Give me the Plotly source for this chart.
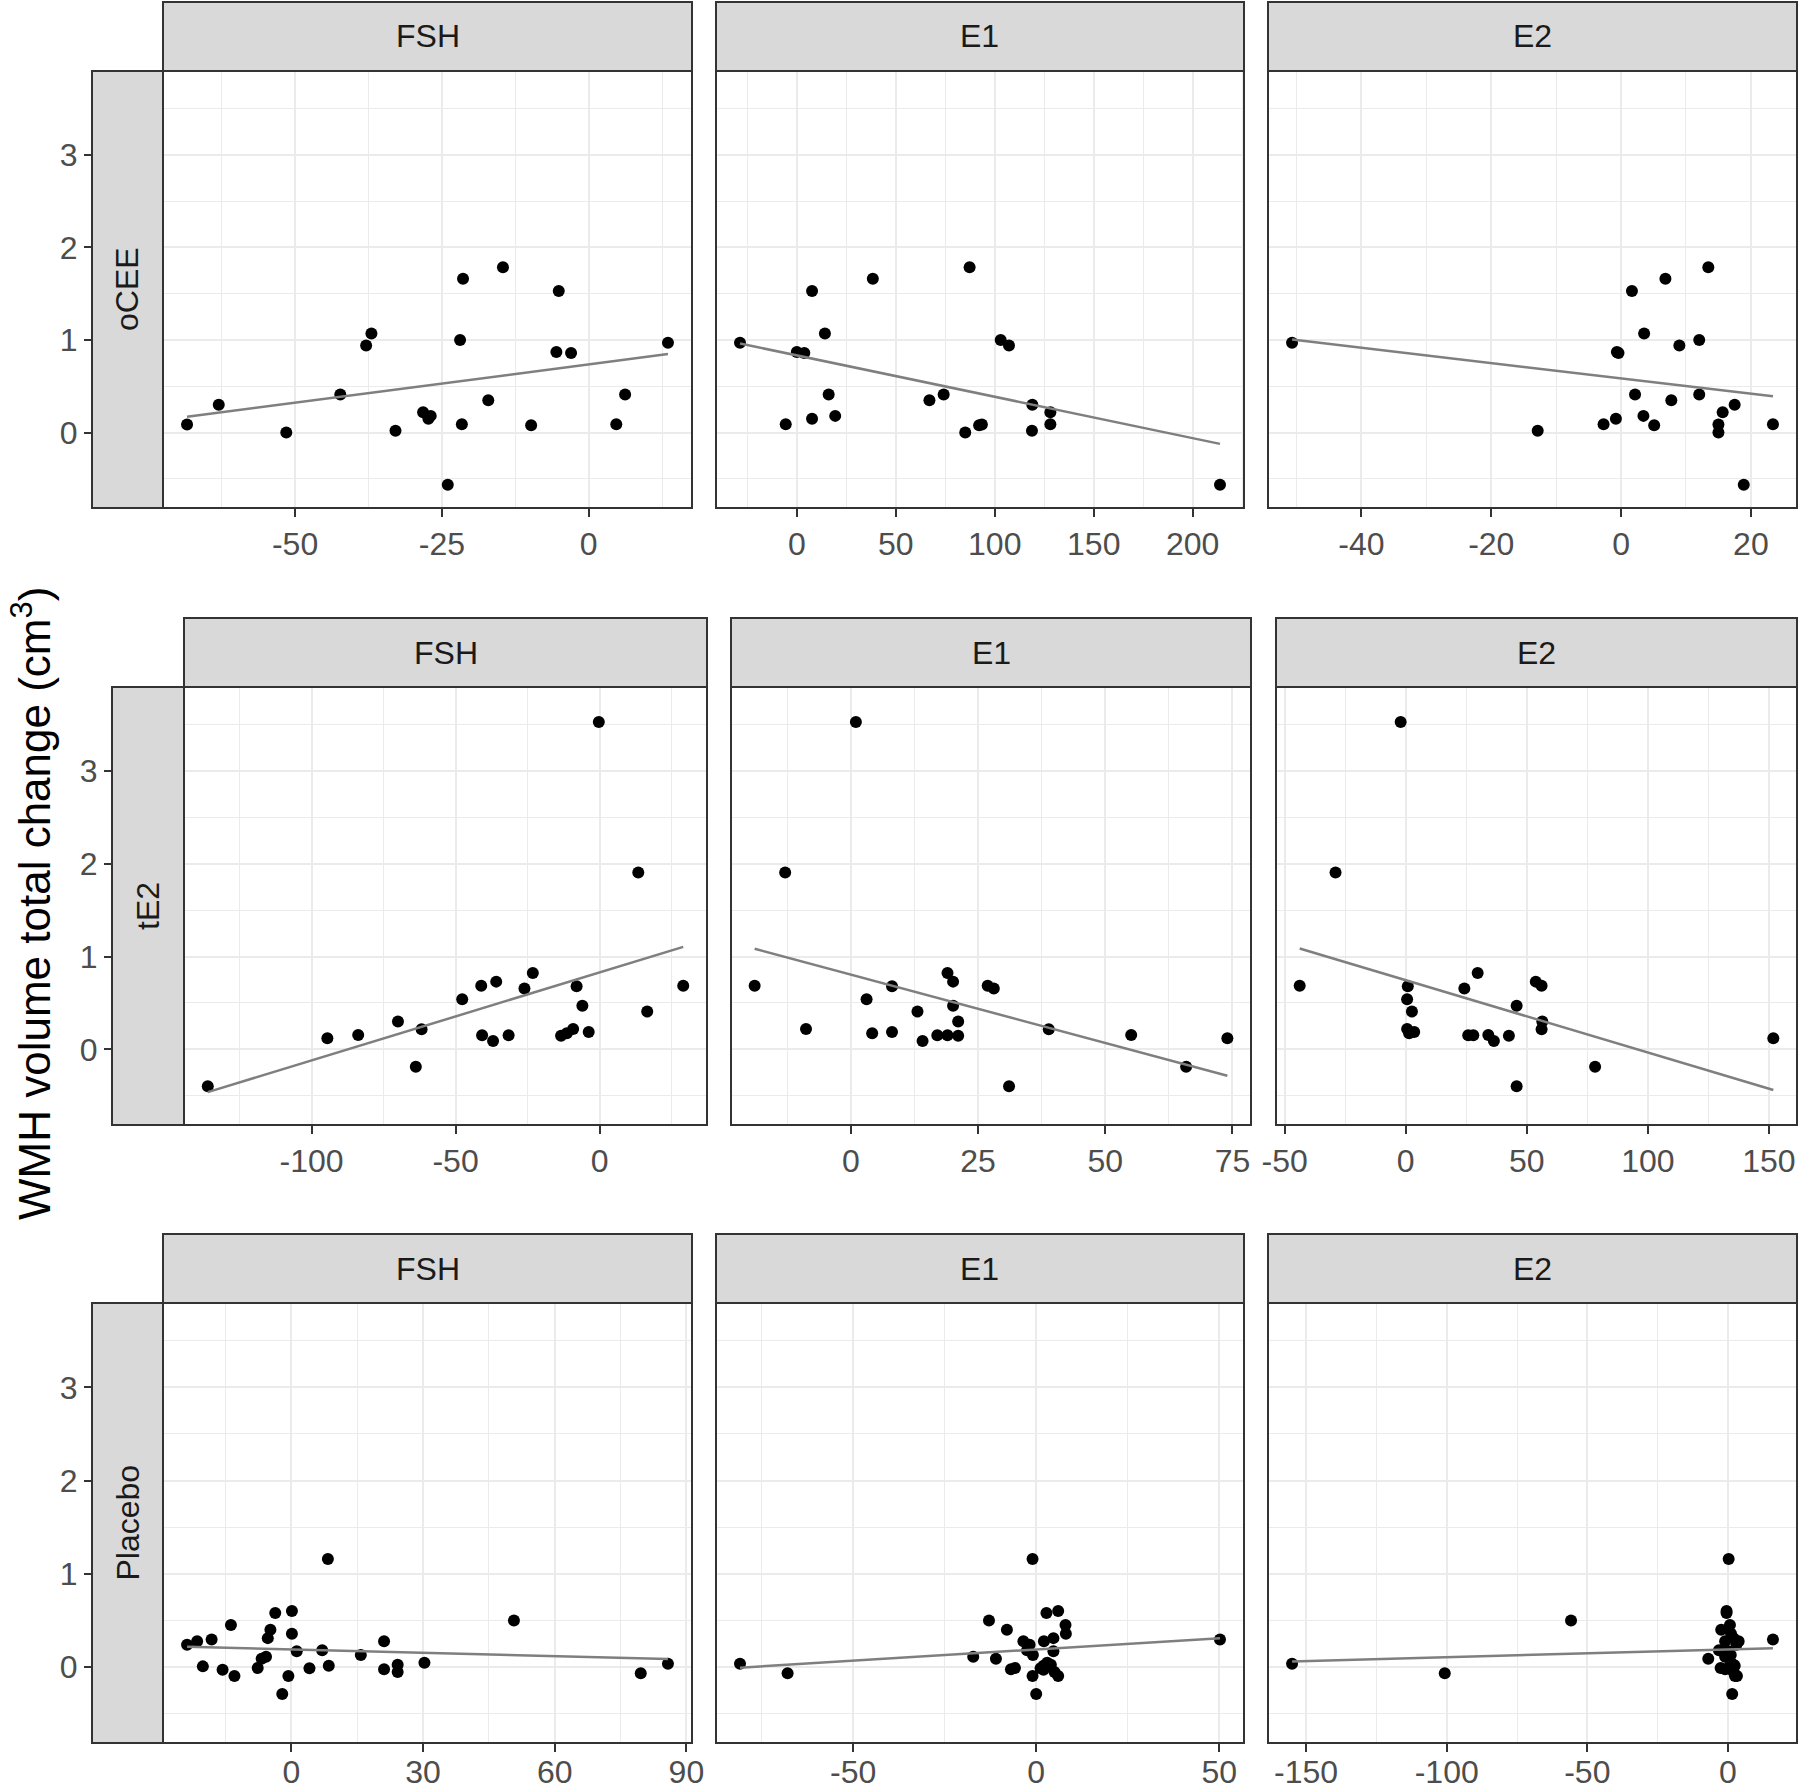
import numpy as np
import plotly.graph_objects as go

W, H = 1800, 1789

hormones = ["FSH", "E1", "E2"]
groups = ["oCEE", "tE2", "Placebo"]

# oCEE: one y per subject, x per hormone change
ocee_y = [0.97, 0.87, 0.86, 1.53, 1.07, 0.15, 0.41, 0.18, 1.66, 0.35, 0.41, 0.00,
          1.785, 0.08, 0.086, 1.00, 0.94, 0.30, 0.02, 0.22, 0.09, -0.565, 0.09]
ocee_fsh = [13.5, -5.5, -3.0, -5.1, -37.0, -27.3, -42.3, -26.9, -21.4, -17.1, 6.2, -51.5,
            -14.6, -9.8, -68.4, -21.9, -37.9, -63.0, -32.9, -28.2, -21.6, -24.0, 4.7]
ocee_e1 = [-28.7, 0.0, 3.8, 7.7, 14.2, 7.7, 16.1, 19.4, 38.4, 67.0, 74.2, 85.1,
           87.3, 92.1, 93.5, 103.0, 107.2, 119.0, 118.8, 128.1, 128.1, 213.8, -5.6]
ocee_e2 = [-50.7, -0.65, -0.4, 1.67, 3.55, -0.8, 2.15, 3.44, 6.83, 7.74, 12.04, 15.0,
           13.44, 5.1, 15.0, 12.04, 8.98, 17.5, -12.85, 15.65, -2.7, 18.9, 23.4]

# tE2
te2_y = [-0.397, 0.119, 0.155, 0.30, -0.188, 0.217, 0.54, 0.686, 0.152, 0.09, 0.73, 0.152,
         0.657, 0.823, 0.146, 0.173, 0.22, 0.68, 0.47, 0.188, 3.527, 1.906, 0.408, 0.686]
te2_fsh = [-136.0, -94.5, -83.8, -70.0, -63.8, -61.8, -47.7, -41.1, -40.8, -37.0, -35.9, -31.6,
           -26.1, -23.2, -13.4, -11.4, -9.2, -8.0, -6.0, -3.8, -0.3, 13.4, 16.5, 29.0]
te2_e1 = [31.1, 74.0, 55.1, 21.1, 65.9, 38.9, 3.1, 26.9, 17.0, 14.1, 20.1, 19.0,
          28.1, 19.0, 21.1, 4.2, -8.8, 8.1, 20.1, 8.1, 1.0, -12.9, 13.1, -18.9]
te2_e2 = [45.8, 151.8, 34.1, 56.4, 78.2, 56.1, 0.57, 56.1, 25.8, 36.4, 53.7, 27.9,
          24.2, 29.7, 42.6, 1.4, 0.57, 0.85, 45.8, 3.5, -2.1, -29.0, 2.55, -43.8]

# Placebo
plac_y = [0.24, 0.277, 0.007, 0.295, -0.03, 0.45, -0.097, -0.01, 0.09, 0.11, 0.31, 0.40,
          0.58, -0.29, -0.097, 0.60, 0.356, 0.17, -0.014, 0.18, 1.16, 0.014, 0.13, 0.277,
          -0.025, 0.025, -0.054, 0.047, 0.50, -0.068, 0.036]
plac_fsh = [-23.8, -21.5, -20.2, -18.2, -15.7, -13.8, -13.0, -7.7, -6.8, -5.8, -5.4, -4.8,
            -3.7, -2.1, -0.7, 0.1, 0.1, 1.2, 4.1, 7.0, 8.3, 8.5, 15.8, 21.1,
            21.1, 24.2, 24.2, 30.3, 50.7, 79.6, 85.8]
plac_e1 = [-1.8, -3.5, 3.0, 50.2, 2.0, 8.0, -1.0, -5.8, -11.0, -17.2, 4.7, -8.0,
           2.8, 0.0, 6.0, 6.0, 8.1, 4.7, 1.2, -2.5, -1.0, 2.0, -0.9, 2.1,
           -6.9, 4.0, 5.0, 3.0, -12.9, -67.9, -80.9]
plac_e2 = [3.0, -1.0, 1.0, 16.0, 1.5, 0.7, 3.2, -2.6, -7.0, -1.0, 2.0, -2.4,
           -0.5, 1.5, 2.5, -0.5, 1.1, 0.0, 0.5, -3.2, 0.25, 2.4, 1.0, 3.8,
           -1.0, 2.0, 2.0, 1.0, -55.8, -100.7, -155.0]

# axis breaks
ocee_ticks = [[-50, -25, 0], [0, 50, 100, 150, 200], [-40, -20, 0, 20]]
te2_ticks = [[-100, -50, 0], [0, 25, 50, 75], [-50, 0, 50, 100, 150]]
plac_ticks = [[0, 30, 60, 90], [-50, 0, 50], [-150, -100, -50, 0]]
y_ticks = [0, 1, 2, 3]

data = [
    (ocee_y, [ocee_fsh, ocee_e1, ocee_e2], ocee_ticks),
    (te2_y, [te2_fsh, te2_e1, te2_e2], te2_ticks),
    (plac_y, [plac_fsh, plac_e1, plac_e2], plac_ticks),
]

# layout in pixels
panel_x = [
    [(163, 692), (716, 1244), (1268, 1797)],
    [(184, 707), (731, 1251), (1276, 1797)],
    [(163, 692), (716, 1244), (1268, 1797)],
]
strip_left = [92, 112, 92]
panel_y = [(71, 508), (687, 1125), (1303, 1743)]
label_shift = [0, 0, -7]
strip_h = 69
y_range = [-0.815, 3.905]

FONT = "Liberation Sans, Arial, sans-serif"
BORDER = "#333333"
TICKFONT = dict(family=FONT, size=32, color="#4d4d4d")


def px(v):
    return v / W


def py(v):
    return 1 - v / H


def minors(breaks):
    b = list(breaks)
    step = b[1] - b[0]
    return [b[0] - step / 2] + [v + step / 2 for v in b]


fig = go.Figure()
shapes = []
annotations = []

for r, (yv, xs, ticks) in enumerate(data):
    y0, y1 = panel_y[r]
    for c in range(3):
        i = r * 3 + c + 1
        xn = "x" if i == 1 else f"x{i}"
        yn = "y" if i == 1 else f"y{i}"
        xv = np.array(xs[c])
        yy = np.array(yv)

        fig.add_trace(go.Scatter(x=xv, y=yy, mode="markers", xaxis=xn, yaxis=yn,
                                 marker=dict(color="black", size=12), showlegend=False,
                                 hoverinfo="x+y"))
        slope, icpt = np.polyfit(xv, yy, 1)
        lx = np.array([xv.min(), xv.max()])
        fig.add_trace(go.Scatter(x=lx, y=slope * lx + icpt, mode="lines", xaxis=xn, yaxis=yn,
                                 line=dict(color="#7f7f7f", width=2.5), showlegend=False,
                                 hoverinfo="skip"))

        span = xv.max() - xv.min()
        x_range = [xv.min() - 0.05 * span, xv.max() + 0.05 * span]
        a, b = panel_x[r][c]

        xaxis = dict(domain=[px(a), px(b)], range=x_range, anchor=yn, automargin=False,
                     tickmode="array", tickvals=ticks[c], ticktext=[str(t) for t in ticks[c]],
                     ticks="outside", ticklen=8, tickwidth=2, tickcolor=BORDER,
                     ticklabelstandoff=label_shift[r],
                     showgrid=True, gridcolor="#ebebeb", gridwidth=2.2,
                     minor=dict(tickmode="array", tickvals=minors(ticks[c]),
                                showgrid=True, gridcolor="#ebebeb", gridwidth=1.1),
                     zeroline=False, showline=False, tickfont=TICKFONT)
        yaxis = dict(domain=[py(y1), py(y0)], range=y_range, automargin=False,
                     tickmode="array", tickvals=y_ticks, ticktext=[str(t) for t in y_ticks],
                     showgrid=True, gridcolor="#ebebeb", gridwidth=2.2,
                     minor=dict(tickmode="array", tickvals=minors(y_ticks),
                                showgrid=True, gridcolor="#ebebeb", gridwidth=1.1),
                     zeroline=False, showline=False)
        if c == 0:
            yaxis.update(anchor="free", position=px(strip_left[r]), ticks="outside",
                         ticklen=8, tickwidth=2, tickcolor=BORDER, showticklabels=True,
                         tickfont=TICKFONT)
        else:
            yaxis.update(anchor=xn, showticklabels=False, ticks="")
        fig.update_layout({xn.replace("x", "xaxis"): xaxis, yn.replace("y", "yaxis"): yaxis})

        # panel border
        shapes.append(dict(type="rect", xref="paper", yref="paper",
                           x0=px(a), x1=px(b), y0=py(y1), y1=py(y0),
                           line=dict(color=BORDER, width=2), fillcolor="rgba(0,0,0,0)",
                           layer="above"))
        # column strip
        shapes.append(dict(type="rect", xref="paper", yref="paper",
                           x0=px(a), x1=px(b), y0=py(y0), y1=py(y0 - strip_h),
                           line=dict(color=BORDER, width=2), fillcolor="#d9d9d9",
                           layer="above"))
        annotations.append(dict(text=hormones[c], xref="paper", yref="paper",
                                x=px((a + b) / 2), y=py(y0 - strip_h / 2),
                                showarrow=False, xanchor="center", yanchor="middle",
                                font=dict(family=FONT, size=32, color="#1a1a1a")))

    # row strip
    sl = strip_left[r]
    sr = panel_x[r][0][0]
    shapes.append(dict(type="rect", xref="paper", yref="paper",
                       x0=px(sl), x1=px(sr), y0=py(y1), y1=py(y0),
                       line=dict(color=BORDER, width=2), fillcolor="#d9d9d9",
                       layer="above"))
    annotations.append(dict(text=groups[r], xref="paper", yref="paper",
                            x=px((sl + sr) / 2), y=py((y0 + y1) / 2), textangle=-90,
                            showarrow=False, xanchor="center", yanchor="middle",
                            font=dict(family=FONT, size=32, color="#1a1a1a")))

annotations.append(dict(text="WMH volume total change (cm<sup>3</sup>)", xref="paper", yref="paper",
                        x=px(31), y=py(904), textangle=-90, showarrow=False,
                        xanchor="center", yanchor="middle",
                        font=dict(family=FONT, size=44, color="black")))

fig.update_layout(width=W, height=H, margin=dict(l=0, r=0, t=0, b=0, autoexpand=False),
                  paper_bgcolor="white", plot_bgcolor="white",
                  shapes=shapes, annotations=annotations, showlegend=False)

fig.write_html("out.html", config={"displayModeBar": False},
               post_script="document.body.style.margin='0px';")
